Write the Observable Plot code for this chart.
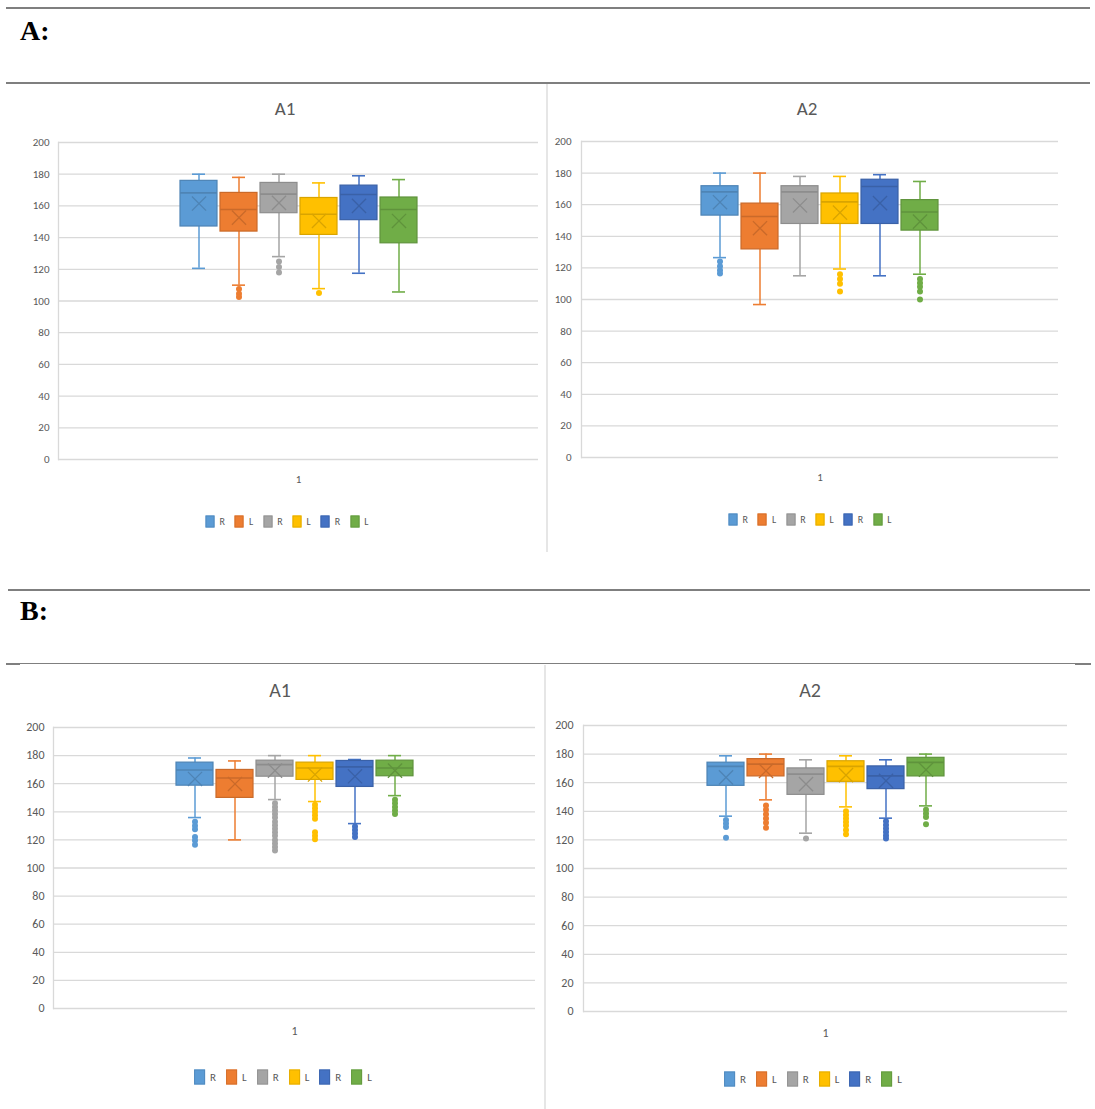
<!DOCTYPE html>
<html><head><meta charset="utf-8">
<script src="https://cdn.jsdelivr.net/npm/d3@7"></script>
<script src="https://cdn.jsdelivr.net/npm/@observablehq/plot@0.6"></script>
<style>
body{margin:0;background:#fff;}
#page{position:relative;width:1095px;height:1109px;overflow:hidden;font-family:Carlito,"Liberation Sans",Arial,sans-serif;}
.hline{position:absolute;height:2px;background:#7f7f7f;}
.vline{position:absolute;width:2px;background:#e6e6e6;}
.sec{position:absolute;font-family:"Liberation Serif","Times New Roman",serif;font-weight:bold;font-size:28px;color:#000;line-height:1;}
.title{position:absolute;transform:translate(-50%,-50%);font-size:19px;color:#595959;white-space:nowrap;}
.legend{position:absolute;transform:translate(-50%,-50%);display:flex;align-items:center;white-space:nowrap;}
.legend .it{display:flex;align-items:center;margin:0 5px;}
.legend .sw{width:9px;height:12px;margin-right:5px;box-sizing:border-box;}
.legend .lb{font-size:10px;color:#595959;}
.plot{position:absolute;}
</style></head>
<body><div id="page"></div>
<script>
// ---- data ----
const seriesKeys = ["R1","L1","R2","L2","R3","L3"];
const seriesLabels = ["R","L","R","L","R","L"];
const seriesColors = ["#5B9BD5","#ED7D31","#A5A5A5","#FFC000","#4472C4","#70AD47"];
const yTicks = [0,20,40,60,80,100,120,140,160,180,200];
const xCategory = ["1"];
const panelTitles = ["A1","A2","A1","A2"];
const sectionLabels = ["A:","B:"];

// Section A, panel A1
const a1WhiskerHigh = [180, 178, 180, 174.5, 179, 176.6];
const a1Q3 = [175.8, 168.2, 174.5, 165, 172.8, 165.3];
const a1Median = [168.2, 157.7, 167.4, 154.7, 167.2, 157.7];
const a1Q1 = [147, 143.8, 155.4, 141.7, 151, 136.4];
const a1WhiskerLow = [120.6, 110, 128, 107.8, 117.5, 105.7];
const a1Mean = [161.5, 152.6, 161.9, 150.5, 160, 150.5];
const a1Outliers = [[], [107.5, 104.5, 102.5], [125, 121.5, 118], [105], [], []];

// Section A, panel A2
const a2WhiskerHigh = [180, 180, 177.9, 177.9, 179, 174.7];
const a2Q3 = [171.7, 160.7, 171.7, 167.1, 175.8, 162.9];
const a2Median = [168.1, 152.5, 168.1, 161.8, 171.5, 155.4];
const a2Q1 = [153.1, 131.7, 147.8, 147.8, 147.8, 143.6];
const a2WhiskerLow = [126.5, 96.8, 115, 119.3, 115, 116];
const a2Mean = [161.6, 145.1, 159.5, 155, 161, 149.3];
const a2Outliers = [[124, 121, 118.5, 116.5], [], [], [116, 113, 110, 105], [], [113, 110.5, 108, 105, 100]];

// Section B, panel A1
const b1WhiskerHigh = [178.3, 176.2, 180, 180, 177.2, 180];
const b1Q3 = [175, 169.8, 176.4, 175, 176.2, 176.4];
const b1Median = [169.8, 164.1, 173.6, 171.2, 172, 171.2];
const b1Q1 = [158.6, 149.9, 165, 162.7, 157.7, 165.3];
const b1WhiskerLow = [135.9, 120, 148.7, 147.3, 131.6, 151.5];
const b1Mean = [163.4, 159.8, 169.3, 166.5, 165.3, 169.3];
const b1Outliers = [
  [133, 130, 127.5, 122, 119.5, 116.5],
  [],
  [146, 143.5, 141, 138.5, 136, 133, 130.5, 128, 125.5, 123, 120, 117.5, 115, 112.5],
  [145, 142.5, 140, 137.5, 135, 125.5, 123, 120.5],
  [129.5, 127, 124.5, 122],
  [148.5, 146, 143.5, 141, 138.5]
];

// Section B, panel A2
const b2WhiskerHigh = [178.8, 180, 176, 178.8, 176, 180];
const b2Q3 = [174, 176.5, 170, 175, 171.4, 177.4];
const b2Median = [171.4, 173, 166, 171.4, 164.8, 174.2];
const b2Q1 = [157.8, 164.4, 151.5, 160.6, 155.5, 164.4];
const b2WhiskerLow = [136.6, 148, 124.7, 143.1, 135.2, 143.8];
const b2Mean = [163.7, 168.3, 159, 165.3, 161.3, 169];
const b2Outliers = [
  [134, 131.5, 129, 121.5],
  [144, 141, 138, 135, 132, 128.5],
  [121],
  [140, 137.5, 135, 132.5, 130, 127, 124],
  [133, 130.5, 128, 125.5, 123, 121],
  [141, 138.5, 136, 131]
];

// ---- layout ----
const page = document.getElementById("page");
function el(cls, style, text){
  const d = document.createElement("div");
  d.className = cls;
  Object.assign(d.style, style);
  if (text != null) d.textContent = text;
  page.appendChild(d);
  return d;
}
// section rules
el("hline", {left:"6px", top:"7px", width:"1084px"});
el("hline", {left:"6px", top:"82px", width:"1084px"});
el("hline", {left:"8px", top:"589px", width:"1082px"});
el("hline", {left:"6px", top:"663px", width:"1084px", height:"1px"});
el("hline", {left:"6px", top:"663px", width:"14px"});
el("hline", {left:"1075px", top:"663px", width:"16px"});
el("sec", {left:"20px", top:"17px"}, sectionLabels[0]);
el("sec", {left:"20px", top:"597px"}, sectionLabels[1]);
el("vline", {left:"546px", top:"84px", height:"468px"});
el("vline", {left:"544px", top:"665px", height:"444px"});

const panels = [
  {title:panelTitles[0], left:8, width:539, fL:58, fR:538, fT:142, fB:459, tx:285, ty:108, oneY:482, lx:287, ly:521, fs:11,
   hi:a1WhiskerHigh, q3:a1Q3, med:a1Median, q1:a1Q1, lo:a1WhiskerLow, mean:a1Mean, out:a1Outliers},
  {title:panelTitles[1], left:547, width:543, fL:581, fR:1058, fT:141, fB:457, tx:807, ty:108, oneY:480, lx:810, ly:519, fs:11,
   hi:a2WhiskerHigh, q3:a2Q3, med:a2Median, q1:a2Q1, lo:a2WhiskerLow, mean:a2Mean, out:a2Outliers},
  {title:panelTitles[2], left:8, width:537, fL:53, fR:535, fT:727, fB:1008, tx:280, ty:690, oneY:1034, lx:283, ly:1077, fs:12,
   hi:b1WhiskerHigh, q3:b1Q3, med:b1Median, q1:b1Q1, lo:b1WhiskerLow, mean:b1Mean, out:b1Outliers},
  {title:panelTitles[3], left:545, width:545, fL:583, fR:1067, fT:725, fB:1011, tx:810, ty:690, oneY:1036, lx:813, ly:1079, fs:12,
   hi:b2WhiskerHigh, q3:b2Q3, med:b2Median, q1:b2Q1, lo:b2WhiskerLow, mean:b2Mean, out:b2Outliers}
];

for (const p of panels) {
  el("title", {left:p.tx+"px", top:p.ty+"px", fontSize:(p.fs+8)+"px"}, p.title);
  const rows = seriesKeys.map((k,i)=>({
    key:k, color:seriesColors[i], dark:d3.color(seriesColors[i]).darker(0.45).formatHex(),
    lo:p.lo[i], q1:p.q1[i], med:p.med[i], q3:p.q3[i], hi:p.hi[i], mean:p.mean[i]
  }));
  const outRows = seriesKeys.flatMap((k,i)=>p.out[i].map(v=>({key:k, v, color:seriesColors[i]})));
  const mT = 12, mB = 40;
  const W = p.fR - p.fL;
  const step = 40.2, pi = 0.08;
  const po = (W/step - 6 + pi)/2;
  const chart = Plot.plot({
    width: p.width,
    height: (p.fB - p.fT) + mT + mB,
    marginLeft: p.fL - p.left,
    marginRight: p.left + p.width - p.fR,
    marginTop: mT,
    marginBottom: mB,
    style: {fontFamily:'Carlito,"Liberation Sans",Arial,sans-serif', fontSize:p.fs+"px", color:"#595959", background:"transparent"},
    x: {type:"band", domain:seriesKeys, paddingInner:pi, paddingOuter:po, axis:null},
    y: {domain:[0,200], axis:null},
    color: {type:"identity"},
    marks: [
      Plot.gridY(yTicks, {stroke:"#d9d9d9", strokeOpacity:1, strokeWidth:1.3}),
      Plot.frame({anchor:"left", stroke:"#d9d9d9", strokeWidth:1.3}),
      Plot.axisY(yTicks, {tickSize:0, tickPadding:p.fL - p.left > 40 ? 9 : 10, fill:"#595959"}),
      Plot.ruleX(rows, {x:"key", y1:"q3", y2:"hi", stroke:"color", strokeWidth:1.5}),
      Plot.ruleX(rows, {x:"key", y1:"lo", y2:"q1", stroke:"color", strokeWidth:1.5}),
      Plot.tickY(rows, {x:"key", y:"hi", stroke:"color", strokeWidth:1.6, insetLeft:12, insetRight:12}),
      Plot.tickY(rows, {x:"key", y:"lo", stroke:"color", strokeWidth:1.6, insetLeft:12, insetRight:12}),
      Plot.barY(rows, {x:"key", y1:"q1", y2:"q3", fill:"color", stroke:"dark", strokeWidth:1.2}),
      Plot.tickY(rows, {x:"key", y:"med", stroke:"dark", strokeWidth:1.6}),
      Plot.dot(rows, {x:"key", y:"mean", symbol:"times", r:6.5, stroke:"dark", strokeWidth:1.3}),
      Plot.dot(outRows, {x:"key", y:"v", r:3, fill:"color", stroke:"none"}),
      Plot.text(xCategory, {frameAnchor:"bottom", dy:p.oneY - p.fB, text:d=>d, fill:"#595959"})
    ]
  });
  chart.classList.add("plot");
  chart.style.left = p.left + "px";
  chart.style.top = (p.fT - mT) + "px";
  page.appendChild(chart);

  const lg = el("legend", {left:p.lx+"px", top:p.ly+"px"});
  seriesLabels.forEach((lab,i)=>{
    const it = document.createElement("div"); it.className = "it";
    const sw = document.createElement("div"); sw.className = "sw";
    sw.style.background = seriesColors[i];
    sw.style.border = "1px solid " + d3.color(seriesColors[i]).darker(0.3).formatHex();
    if (p.fs > 11) { sw.style.width = "11px"; sw.style.height = "15px"; }
    const lb = document.createElement("span"); lb.className = "lb"; lb.textContent = lab;
    lb.style.fontSize = (p.fs - 1) + "px";
    it.appendChild(sw); it.appendChild(lb); lg.appendChild(it);
  });
}
</script>
</body></html>
